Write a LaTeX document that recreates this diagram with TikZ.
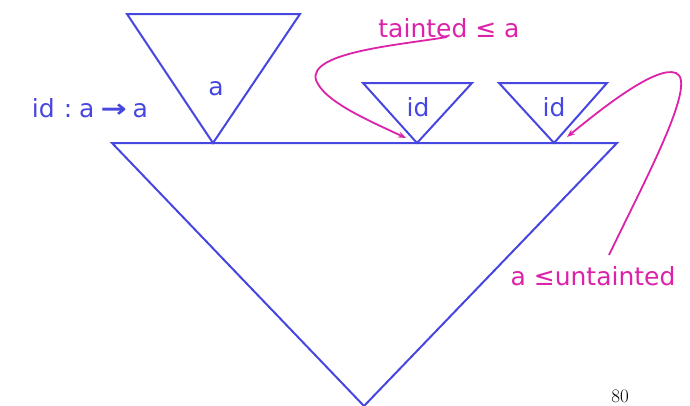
\documentclass[tikz,border=0pt]{standalone}
\usepackage{fontspec}
\setmainfont{DejaVu Sans}
\usetikzlibrary{arrows.meta}
\definecolor{tblue}{RGB}{70,70,225}
\definecolor{tmag}{RGB}{221,34,170}
\begin{document}
\begin{tikzpicture}[x=1pt,y=-1pt,
  tri/.style={draw=tblue,line width=2pt,line join=miter},
  lbl/.style={font=\fontsize{25}{28}\selectfont,inner sep=0pt,anchor=base},
  bluetxt/.style={lbl,text=tblue},
  magtxt/.style={lbl,text=tmag},
  marrow/.style={draw=tmag,line width=1.8pt,-{Stealth[length=8pt,width=6pt]}}]
\useasboundingbox (0,0) rectangle (690,405);
% big triangle
\coordinate (BL) at (112,143);
\coordinate (BR) at (617,143);
\coordinate (BB) at (364,406);
\draw[tri] (BL) -- (BR) -- (BB) -- cycle;
% triangle a
\coordinate (AL) at (127,14);
\coordinate (AR) at (300,14);
\coordinate (AB) at (213,143);
\draw[tri] (AL) -- (AR) -- (AB) -- cycle;
\node[bluetxt] (alab) at (216,95) {a};
% id triangles
\coordinate (I1L) at (363,83);
\coordinate (I1R) at (472,83);
\coordinate (I1B) at (417,143);
\draw[tri] (I1L) -- (I1R) -- (I1B) -- cycle;
\node[bluetxt] (id1) at (418,116) {id};
\coordinate (I2L) at (499,83);
\coordinate (I2R) at (607,83);
\coordinate (I2B) at (554,143);
\draw[tri] (I2L) -- (I2R) -- (I2B) -- cycle;
\node[bluetxt] (id2) at (554,116) {id};
% type label
\node[bluetxt] (type) at (90,117) {id\hspace{9pt}:\hspace{7pt}a\hspace{6pt}\scalebox{1.25}[1]{\bfseries →}\hspace{6pt}a};
% magenta labels
\node[magtxt] (taint) at (449,37) {tainted ≤ a};
\node[magtxt] (untaint) at (593,285) {a ≤untainted};
\coordinate (t1) at (406,138);
\coordinate (t2) at (567,137);
\coordinate (s1) at (447,37);
\coordinate (s2) at (609,255);
\draw[marrow] (s1) .. controls (400,45) and (308,52) .. (316,80) .. controls (324,102) and (372,122) .. (t1);
\draw[marrow] (s2) .. controls (645,180) and (698,82) .. (676,73) .. controls (656,65) and (600,110) .. (t2);
% page number
\node[font=\fontsize{19}{21}\selectfont,inner sep=0pt] (pg) at (620,396) {\fontspec{Latin Modern Roman}80};
\end{tikzpicture}
\end{document}
